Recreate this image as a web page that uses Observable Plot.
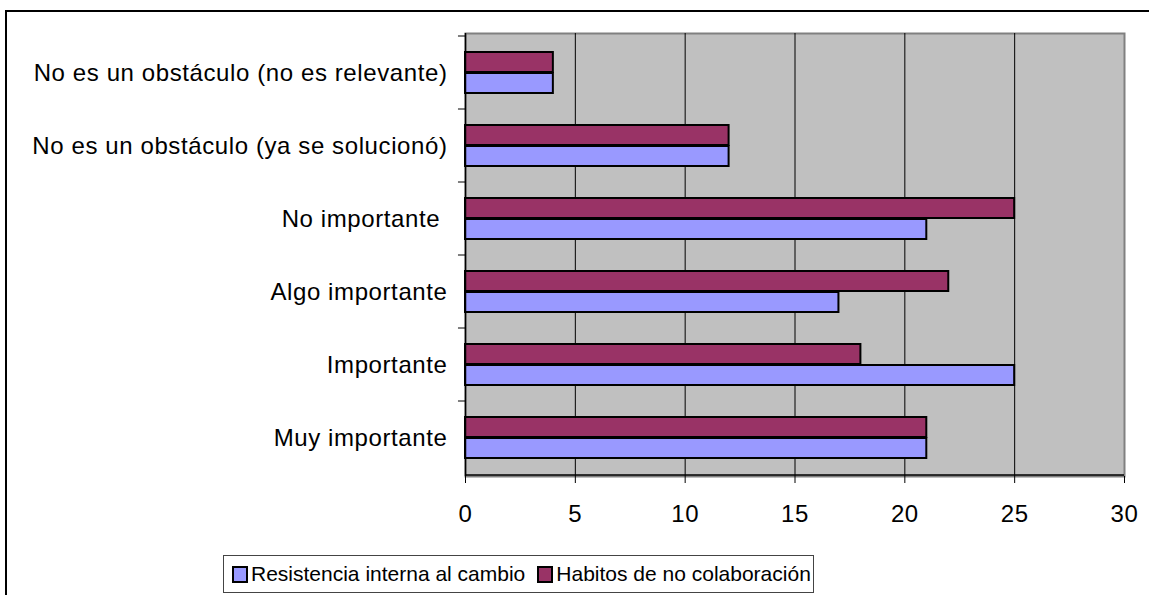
<!DOCTYPE html>
<html>
<head>
<meta charset="utf-8">
<script src="https://cdn.jsdelivr.net/npm/d3@7"></script>
<script src="https://cdn.jsdelivr.net/npm/@observablehq/plot@0.6"></script>
<style>
  html, body { margin: 0; padding: 0; background: #fff; width: 1149px; height: 595px; overflow: hidden; }
  #outer { position: absolute; left: 5px; top: 10px; width: 1200px; height: 700px; border: 2px solid #000; }
  #chart { position: absolute; left: 0; top: 0; }
  #legend { position: absolute; left: 223px; top: 555px; width: 589px; height: 36px; border: 1px solid #444; background: #fff;
            font-family: "Liberation Sans", Arial, sans-serif; font-size: 21px; color: #000; display: flex; align-items: center;
            white-space: nowrap; }
  .item { display: flex; align-items: center; margin-left: 8px; flex: none; }
  .item + .item { margin-left: 12px; }
  .sw { width: 12px; height: 13px; border: 2px solid #000; margin-right: 3px; flex: none; }
  #chart svg text { letter-spacing: 0.6px; }
</style>
</head>
<body>
<div id="outer"></div>
<div id="chart"></div>
<div id="legend"></div>
<script>
const categories = [
  "No es un obstáculo (no es relevante)",
  "No es un obstáculo (ya se solucionó)",
  "No importante ",
  "Algo importante",
  "Importante",
  "Muy importante"
];
const seriesNames = ["Resistencia interna al cambio", "Habitos de no colaboración"];
const resistencia = [4, 12, 21, 17, 25, 21];
const habitos = [4, 12, 25, 22, 18, 21];
const seriesColors = ["#9999FF", "#993366"];
const xTicks = [0, 5, 10, 15, 20, 25, 30];

const dataRes = categories.map((c, i) => ({category: c, series: seriesNames[0], value: resistencia[i]}));
const dataHab = categories.map((c, i) => ({category: c, series: seriesNames[1], value: habitos[i]}));

const plot = Plot.plot({
  width: 1149,
  height: 540,
  marginLeft: 465,
  marginTop: 33,
  marginRight: 25,
  marginBottom: 64,
  style: {fontFamily: "'Liberation Sans', Arial, sans-serif", fontSize: "24px", background: "transparent", overflow: "visible", color: "#000"},
  x: {domain: [0, 30]},
  y: {domain: categories, padding: 0},
  color: {domain: seriesNames, range: seriesColors},
  marks: [
    Plot.frame({fill: "#C0C0C0", stroke: "#808080", strokeWidth: 2}),
    Plot.ruleX(xTicks.filter(d => d > 0 && d < 30), {stroke: "#000", strokeWidth: 1}),
    Plot.barX(dataHab, {x: "value", y: "category", fill: "series", stroke: "#000", strokeWidth: 2, insetTop: 16, insetBottom: 37}),
    Plot.barX(dataRes, {x: "value", y: "category", fill: "series", stroke: "#000", strokeWidth: 2, insetTop: 37, insetBottom: 16}),
    Plot.ruleX([0], {stroke: "#000", strokeWidth: 1.5}),
    Plot.ruleY(categories, {y: d => d, dy: -37, x1: -0.32, x2: 0, stroke: "#000", strokeWidth: 1}),
    Plot.ruleY(categories.slice(-1), {y: d => d, dy: 37, x1: 0, x2: 30, stroke: "#000", strokeWidth: 1.5}),
    Plot.axisY({tickSize: 0, tickPadding: 18, label: null, tickFormat: d => d.replace(/ $/, "\u00a0")}),
    Plot.axisX({ticks: xTicks, tickSize: 7, tickPadding: 21, label: null})
  ]
});
document.getElementById("chart").appendChild(plot);

const legend = document.getElementById("legend");
seriesNames.forEach((s, i) => {
  const item = document.createElement("div");
  item.className = "item";
  const sw = document.createElement("div");
  sw.className = "sw";
  sw.style.background = seriesColors[i];
  const t = document.createElement("span");
  t.textContent = s;
  item.appendChild(sw);
  item.appendChild(t);
  legend.appendChild(item);
});
</script>
</body>
</html>
